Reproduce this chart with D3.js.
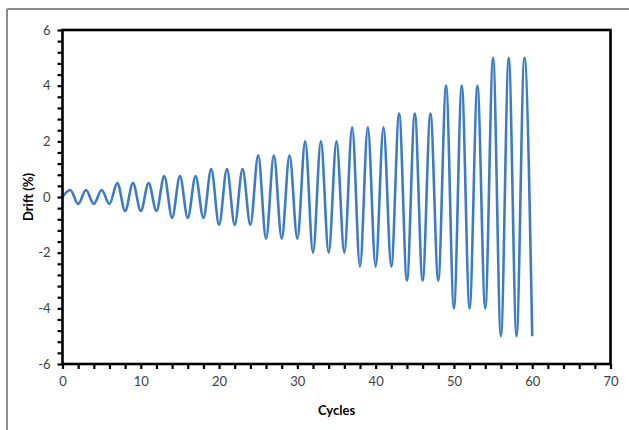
<!DOCTYPE html>
<html>
<head>
<meta charset="utf-8">
<script src="https://cdn.jsdelivr.net/npm/d3@7"></script>
<style>
  html, body { margin: 0; padding: 0; background: #fff; }
  svg { display: block; }
  text { font-family: Lato, "Open Sans", Arial, sans-serif; }
</style>
</head>
<body>
<svg id="chart" width="629" height="430"></svg>
<script>
// ---- data: turning points of the drift history ----
const cycles = [0, 1, 2, 3, 4, 5, 6, 7, 8, 9, 10, 11, 12, 13, 14, 15, 16, 17, 18, 19, 20,
  21, 22, 23, 24, 25, 26, 27, 28, 29, 30, 31, 32, 33, 34, 35, 36, 37, 38, 39, 40,
  41, 42, 43, 44, 45, 46, 47, 48, 49, 50, 51, 52, 53, 54, 55, 56, 57, 58, 59, 60];
const drift = [0,
  0.25, -0.25, 0.25, -0.25, 0.25, -0.25,
  0.5, -0.5, 0.5, -0.5, 0.5, -0.5,
  0.75, -0.75, 0.75, -0.75, 0.75, -0.75,
  1, -1, 1, -1, 1, -1,
  1.5, -1.5, 1.5, -1.5, 1.5, -1.5,
  2, -2, 2, -2, 2, -2,
  2.5, -2.5, 2.5, -2.5, 2.5, -2.5,
  3, -3, 3, -3, 3, -3,
  4, -4, 4, -4, 4, -4,
  5, -5, 5, -5, 5, -5];
const xTickLabels = [0, 10, 20, 30, 40, 50, 60, 70];
const yTickLabels = [-6, -4, -2, 0, 2, 4, 6];
const xTitle = "Cycles";
const yTitle = "Drift (%)";

// ---- layout ----
const svg = d3.select("#chart");
const L = 62.5, R = 610.5, T = 30, B = 364;

// outer chart frame (cropped: only left and top edges visible)
svg.append("line").attr("x1", 7).attr("x2", 7).attr("y1", 9).attr("y2", 430)
  .attr("stroke", "#8c8c8c").attr("stroke-width", 2);
svg.append("line").attr("x1", 7).attr("x2", 629).attr("y1", 9).attr("y2", 9)
  .attr("stroke", "#8c8c8c").attr("stroke-width", 2);

const x = d3.scaleLinear().domain([0, 70]).range([L, R]);
const y = d3.scaleLinear().domain([-6, 6]).range([B, T]);

// minor + major tick positions
const xTicks = d3.range(0, 36).map(i => i * 2);
const yTicks = d3.range(0, 31).map(i => +(-6 + i * 0.4).toFixed(4));

const isLabelX = v => xTickLabels.includes(v);
const isLabelY = v => yTickLabels.some(t => Math.abs(t - v) < 1e-6);

const xAxis = d3.axisBottom(x).tickValues(xTicks).tickSize(5).tickPadding(8)
  .tickFormat(v => isLabelX(v) ? String(v) : "");
const yAxis = d3.axisLeft(y).tickValues(yTicks).tickSize(5).tickPadding(7)
  .tickFormat(v => isLabelY(v) ? String(Math.round(v)) : "");

const gx = svg.append("g").attr("transform", `translate(0,${B})`).call(xAxis);
const gy = svg.append("g").attr("transform", `translate(${L},0)`).call(yAxis);
[gx, gy].forEach(g => {
  g.select(".domain").remove();
  g.selectAll(".tick line").attr("stroke", "#000").attr("stroke-width", 2.2);
  g.selectAll(".tick text").attr("fill", "#404040").attr("font-size", 13)
    .attr("font-family", "Lato, 'Open Sans', Arial, sans-serif");
});

// data line
const line = d3.line()
  .x((d, i) => x(cycles[i]))
  .y(d => y(d))
  .curve(d3.curveMonotoneX);

svg.append("path")
  .datum(drift)
  .attr("d", line)
  .attr("fill", "none")
  .attr("stroke", "#3d7cc4")
  .attr("stroke-width", 2.6)
  .attr("stroke-linejoin", "round");

// plot frame
svg.append("rect").attr("x", L).attr("y", T).attr("width", R - L).attr("height", B - T)
  .attr("fill", "none").attr("stroke", "#000").attr("stroke-width", 2.6);

// axis titles
svg.append("text").attr("x", (L + R) / 2).attr("y", 415)
  .attr("text-anchor", "middle").attr("font-size", 13).attr("font-weight", "bold")
  .attr("fill", "#000").text(xTitle);
svg.append("text")
  .attr("transform", `translate(33,${(T + B) / 2}) rotate(-90)`)
  .attr("text-anchor", "middle").attr("font-size", 13).attr("font-weight", "bold")
  .attr("fill", "#000").text(yTitle);
</script>
</body>
</html>
